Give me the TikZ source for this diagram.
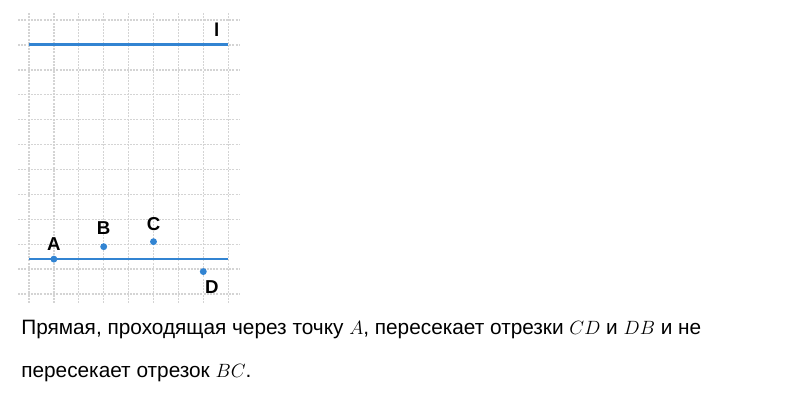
\documentclass[tikz,border=0pt]{standalone}
\usepackage{amsmath}
\usepackage{fontspec}
\setmainfont{Liberation Sans}
\usepackage{xcolor}
\usepackage{tikz}

\definecolor{lineblue}{RGB}{50,132,210}
\definecolor{gridgray}{RGB}{212,212,212}

\begin{document}
\begin{tikzpicture}[x=18.675pt,y=18.675pt,
    gridline/.style={gridgray,line width=1pt,dash pattern=on 1.5pt off 0.9pt},
    bluel/.style={lineblue,line width=2pt},
    dot/.style={circle,fill=lineblue,inner sep=0pt,minimum size=5.2pt},
    lbl/.style={font=\fontsize{14}{16}\selectfont\bfseries,inner sep=0pt},
    txt/.style={font=\fontsize{15.6}{18}\selectfont,anchor=base west,inner sep=0pt}]
  \useasboundingbox (-1.165,-4.458) rectangle (30.964,11.807);
  % grid
  \draw[gridline,step=1] (-0.44,-0.36) grid (8.47,11.33);
  % lines
  \draw[bluel] (0,10.02) -- (8,10.02);
  \draw[bluel] (0,1.4) -- (8,1.4);
  % points
  \foreach \n/\x/\y in {A/1/1.4,B/3/1.9,C/5/2.1,D/7/0.9} {
    \node[dot] (\n) at (\x,\y) {};
  }
  \node[lbl] (lA) at (1,2.0) {A};
  \node[lbl] (lB) at (3,2.65) {B};
  \node[lbl] (lC) at (5,2.81) {C};
  \node[lbl] (lD) at (7.34,0.28) {D};
  \node[lbl] (ll) at (7.54,10.61) {l};
  % text
  \node[txt] (t1) at (-0.32,-1.647) {Прямая, проходящая через точку $A$, пересекает отрезки $CD$ и $DB$ и не};
  \node[txt] (t2) at (-0.32,-3.373) {пересекает отрезок $BC$.};
\end{tikzpicture}
\end{document}
